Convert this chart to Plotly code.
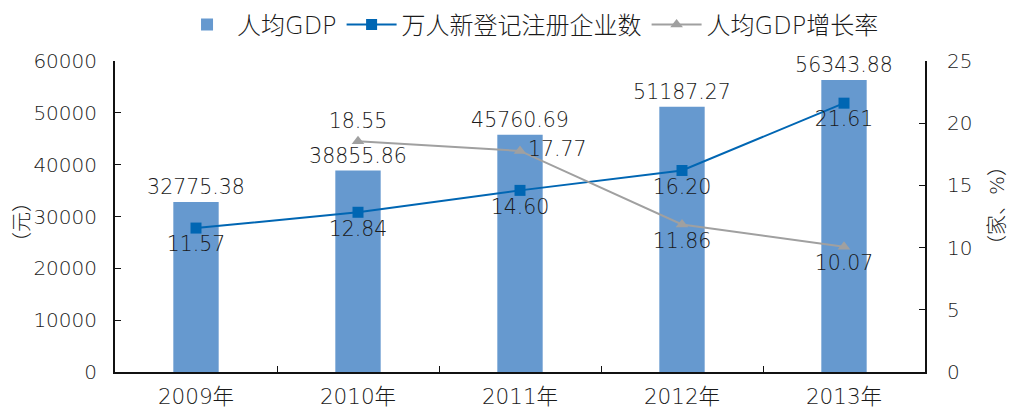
import plotly.graph_objects as go

years = ["2009年", "2010年", "2011年", "2012年", "2013年"]
gdp_per_capita = [32775.38, 38855.86, 45760.69, 51187.27, 56343.88]
new_firms = [11.57, 12.84, 14.60, 16.20, 21.61]
gdp_growth = [None, 18.55, 17.77, 11.86, 10.07]
growth_pos = ["top center", "top center", "middle right", "bottom center", "bottom center"]

FONT = "DejaVu Sans, Noto Sans CJK SC, sans-serif"
TXT = "#1a1a1a"
LBL = 20.5
W = 300

fig = go.Figure()
fig.add_trace(go.Bar(
    x=years, y=gdp_per_capita, name="人均GDP",
    marker=dict(color="#6699cf", line=dict(width=0)),
    text=[f"{v:.2f}" for v in gdp_per_capita], textposition="outside",
    constraintext="none",
    textfont=dict(size=LBL, color=TXT, family=FONT, weight=W), cliponaxis=False,
))
fig.add_trace(go.Scatter(
    x=years, y=new_firms, name="万人新登记注册企业数", yaxis="y2",
    mode="lines+markers+text",
    line=dict(color="#0066b3", width=2),
    marker=dict(symbol="square", size=11, color="#0066b3"),
    text=[f"{v:.2f}" for v in new_firms], textposition="bottom center",
    textfont=dict(size=LBL, color=TXT, family=FONT, weight=W), cliponaxis=False,
))
fig.add_trace(go.Scatter(
    x=years, y=gdp_growth, name="人均GDP增长率", yaxis="y2",
    mode="lines+markers+text",
    line=dict(color="#a0a0a0", width=2),
    marker=dict(symbol="triangle-up", size=11, color="#a0a0a0"),
    text=[None if v is None else f"{v:.2f}" for v in gdp_growth], textposition=growth_pos,
    textfont=dict(size=LBL, color=TXT, family=FONT, weight=W), cliponaxis=False,
))

fig.update_layout(
    width=1009, height=408,
    margin=dict(l=115, r=84, t=61, b=36, autoexpand=False),
    paper_bgcolor="white", plot_bgcolor="white",
    font=dict(family=FONT, size=20, color=TXT, weight=W),
    bargap=0.72,
    showlegend=True,
    legend=dict(orientation="h", x=0.513, xanchor="center", y=1.116, yanchor="middle",
                font=dict(size=24, color=TXT, family=FONT, weight=W),
                itemwidth=50, traceorder="normal", bgcolor="rgba(0,0,0,0)"),
    xaxis=dict(showline=True, linecolor="#111111", linewidth=2, mirror=False,
               ticks="inside", ticklen=6, tickcolor="#111111", tickson="boundaries",
               tickfont=dict(size=21.5, color=TXT, weight=W), showgrid=False, automargin=False,
               ticklabelstandoff=4),
    yaxis=dict(range=[0, 60000], dtick=10000, tickformat="d", showline=True,
               linecolor="#111111", linewidth=2,
               ticks="inside", ticklen=6, tickcolor="#111111", showgrid=False,
               tickfont=dict(size=20, color=TXT, weight=W), zeroline=False, automargin=False,
               ticklabelstandoff=12),
    yaxis2=dict(range=[0, 25], dtick=5, overlaying="y", side="right", showline=True,
                linecolor="#111111", linewidth=2, ticks="inside", ticklen=6, tickcolor="#111111",
                showgrid=False, zeroline=False, tickfont=dict(size=20, color=TXT, weight=W),
                automargin=False, ticklabelstandoff=16),
    annotations=[
        dict(text="（元）", textangle=-90, xref="paper", yref="paper",
             x=(22 - 115) / 810, y=(372 - 222) / 311, xanchor="center", yanchor="middle",
             showarrow=False, font=dict(size=20, color=TXT, family=FONT, weight=W)),
        dict(text="（家、%）", textangle=-90, xref="paper", yref="paper",
             x=(997 - 115) / 810, y=(372 - 205) / 311, xanchor="center", yanchor="middle",
             showarrow=False, font=dict(size=20, color=TXT, family=FONT, weight=W)),
    ],
)
fig.write_html("out.html", config={"displayModeBar": False})

with open("out.html", "r", encoding="utf-8") as f:
    html = f.read()
html = html.replace("<head>", "<head><style>html,body{margin:0;padding:0;overflow:hidden;}</style>", 1)
with open("out.html", "w", encoding="utf-8") as f:
    f.write(html)
